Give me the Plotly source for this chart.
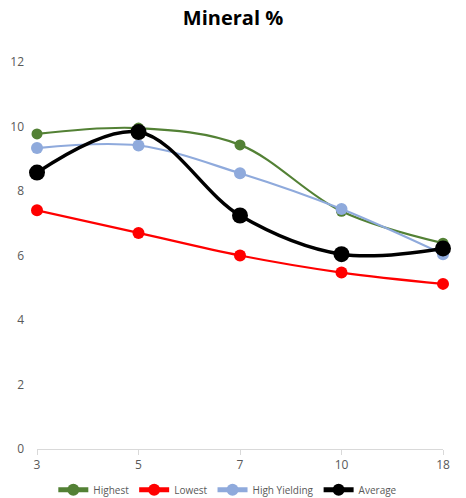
import plotly.graph_objects as go

# Sample intervals (x categories) and mineral % for each series
categories = ["3", "5", "7", "10", "18"]
highest = [9.77, 9.95, 9.43, 7.37, 6.38]
lowest = [7.40, 6.70, 6.00, 5.47, 5.12]
high_yielding = [9.33, 9.41, 8.55, 7.44, 6.04]
average = [8.57, 9.83, 7.24, 6.04, 6.22]

series = [
    ("Highest", highest, "#538135", 2.2, 11),
    ("Lowest", lowest, "#ff0000", 2.2, 12),
    ("High Yielding", high_yielding, "#8faadc", 2.2, 12),
    ("Average", average, "#000000", 3.5, 16),
]

fig = go.Figure()
for name, vals, color, lw, ms in series:
    fig.add_trace(go.Scatter(
        x=categories, y=vals, name=name, mode="lines+markers",
        line=dict(color=color, width=lw, shape="spline", smoothing=1.0),
        marker=dict(color=color, size=ms),
        cliponaxis=False,
    ))

tick_font = dict(family="Open Sans, Noto Sans, sans-serif", size=12, color="#595959")

fig.update_layout(
    width=466, height=498,
    margin=dict(l=37, r=23, t=62, b=49, autoexpand=False),
    paper_bgcolor="white", plot_bgcolor="white",
    title=dict(text="<b>Mineral %</b>", x=0.5, xanchor="center", y=0.963, yanchor="middle",
               font=dict(family="Open Sans, Noto Sans, sans-serif", size=20, color="#000000")),
    showlegend=True,
    legend=dict(orientation="h", x=0.47, xanchor="center", y=-0.105, yanchor="middle",
                itemsizing="constant", itemwidth=30, tracegroupgap=0,
                font=dict(family="Open Sans, Noto Sans, sans-serif", size=10, color="#595959")),
    xaxis=dict(type="category", range=[0, 4], showgrid=False, showline=True,
               linecolor="#d9d9d9", linewidth=1, ticks="outside", ticklen=5,
               tickcolor="#d9d9d9", tickfont=tick_font, zeroline=False, fixedrange=True),
    yaxis=dict(range=[0, 12], dtick=2, showgrid=False, showline=False, zeroline=False,
               ticks="", tickfont=tick_font, ticklabelstandoff=12, fixedrange=True),
)

fig.write_html("out.html")
